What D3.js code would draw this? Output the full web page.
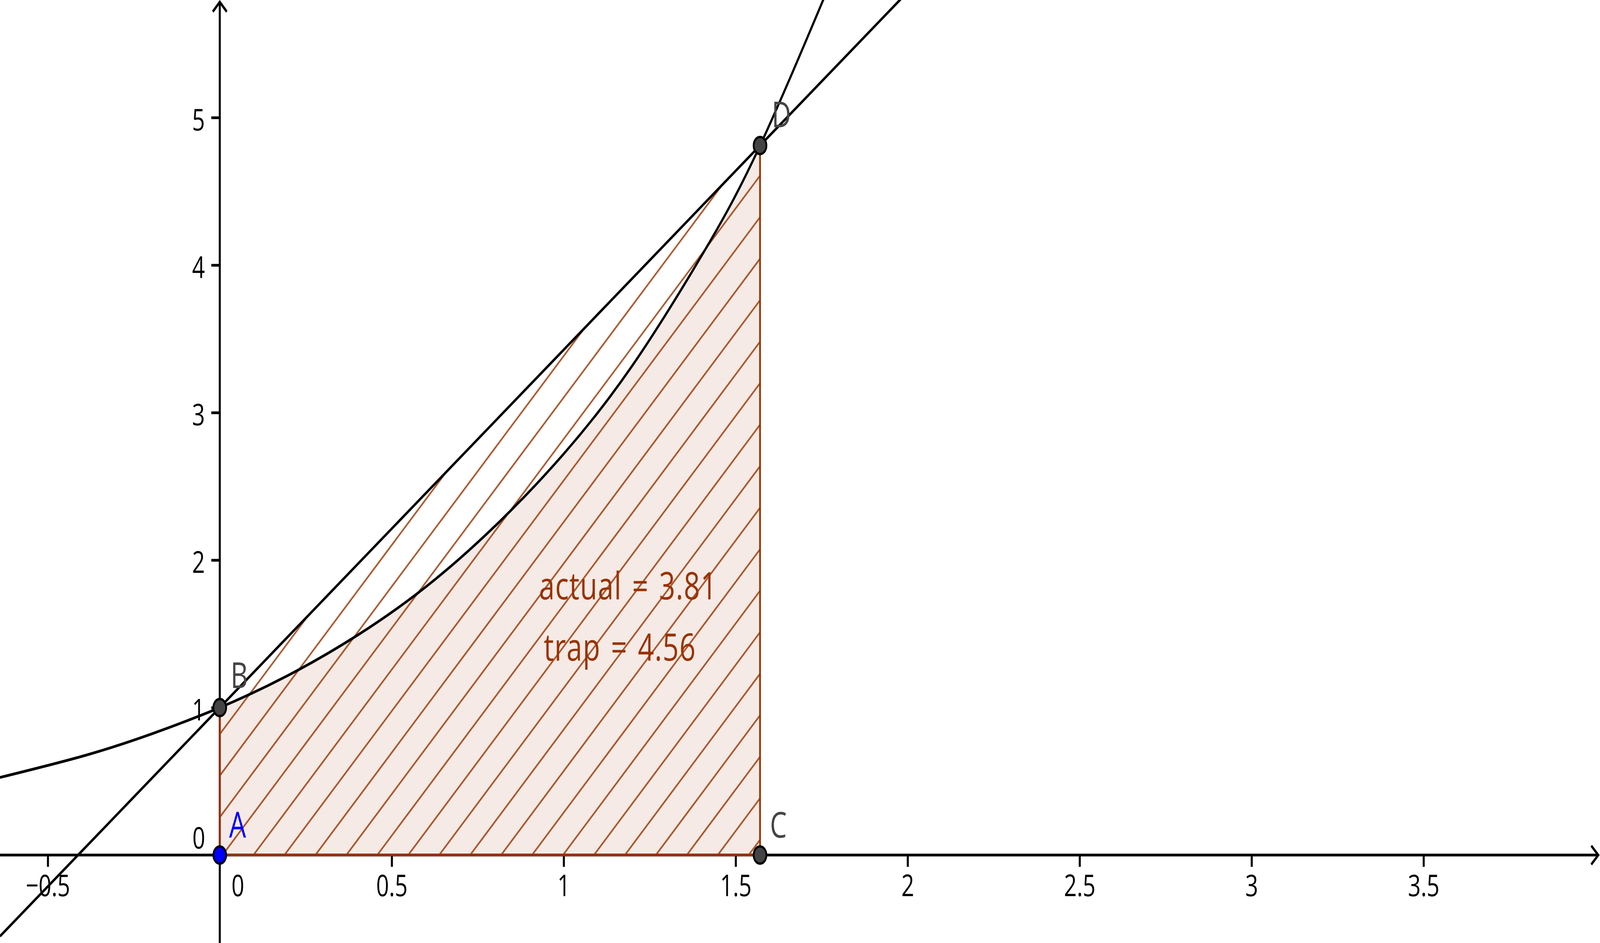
<!DOCTYPE html>
<html>
<head>
<meta charset="utf-8">
<script src="https://cdn.jsdelivr.net/npm/d3@7"></script>
<style>
  html, body { margin: 0; padding: 0; background: #fff; overflow: hidden; width: 100%; height: 100%; }
  #chart { width: 100vw; height: 100vh; }
  svg { display: block; width: 100%; height: 100%; font-family: "Open Sans", sans-serif; }
</style>
</head>
<body>
<div id="chart"></div>
<script>
// graph of the curve
const curveX = [-0.65, -0.4, -0.2, 0, 0.2, 0.4, 0.6, 0.8, 1.0, 1.2, 1.4, 1.5708, 1.8];
const curveY = [0.52, 0.67, 0.82, 1, 1.22, 1.49, 1.82, 2.23, 2.72, 3.32, 4.06, 4.81, 6.05];

// named points
const pointNames = ['A', 'B', 'C', 'D'];
const pointX = [0, 0, 1.5708, 1.5708];
const pointY = [0, 1, 0, 4.8105];
const pointFill = ['#0000ff', '#444444', '#444444', '#444444'];

// axes
const xTicks = [-0.5, 0.5, 1, 1.5, 2, 2.5, 3, 3.5];
const xTickLabels = ['\u22120.5', '0.5', '1', '1.5', '2', '2.5', '3', '3.5'];
const yTicks = [1, 2, 3, 4, 5];
const yTickLabels = ['1', '2', '3', '4', '5'];

// text boxes
const notes = ['actual = 3.81', 'trap = 4.56'];
const noteX = [0.928, 0.942];
const noteY = [1.734, 1.318];

const width = 5495;
const height = 2415;
const brown = '#993300';

const x = d3.scaleLinear().domain([-0.639, 4.013]).range([0, width]);
const y = d3.scaleLinear().domain([-0.596, 5.797]).range([height, 0]);

// drawing is done in 5495x2415 units and stretched onto the window
const svg = d3.select('#chart').append('svg')
  .attr('viewBox', '0 0 ' + width + ' ' + height)
  .attr('preserveAspectRatio', 'none');

const X0 = x(0), Y0 = y(0);

// ---- axes ----
const gx = svg.append('g')
  .attr('transform', 'translate(0,' + Y0 + ')')
  .call(d3.axisBottom(x).tickValues(xTicks)
    .tickFormat(d => xTickLabels[xTicks.indexOf(d)])
    .tickSize(30).tickPadding(20));
gx.select('.domain').remove();
gx.attr('font-size', 77).attr('font-family', '"Open Sans", sans-serif');
gx.selectAll('.tick line').attr('stroke', '#000').attr('stroke-width', 7);
gx.selectAll('.tick text').attr('fill', '#000');

const gy = svg.append('g')
  .attr('transform', 'translate(' + X0 + ',0)')
  .call(d3.axisLeft(y).tickValues(yTicks)
    .tickFormat(d => yTickLabels[yTicks.indexOf(d)])
    .tickSize(29).tickPadding(22));
gy.select('.domain').remove();
gy.attr('font-size', 77).attr('font-family', '"Open Sans", sans-serif');
gy.selectAll('.tick line').attr('stroke', '#000').attr('stroke-width', 7);
gy.selectAll('.tick text').attr('fill', '#000').attr('dy', '0.42em');

// origin labels
svg.append('text').attr('x', X0 + 62).attr('y', Y0 + 105)
  .attr('text-anchor', 'middle').attr('font-size', 77).text('0');
svg.append('text').attr('x', X0 - 50).attr('y', Y0 - 17)
  .attr('text-anchor', 'end').attr('font-size', 77).text('0');

// axis lines with open arrow heads
svg.append('line').attr('x1', 0).attr('x2', width - 6)
  .attr('y1', Y0).attr('y2', Y0)
  .attr('stroke', '#000').attr('stroke-width', 7);
svg.append('polyline')
  .attr('points', [[width - 30, Y0 - 24], [width - 6, Y0], [width - 30, Y0 + 24]].join(' '))
  .attr('fill', 'none').attr('stroke', '#000').attr('stroke-width', 7);
svg.append('line').attr('x1', X0).attr('x2', X0)
  .attr('y1', height).attr('y2', 5)
  .attr('stroke', '#000').attr('stroke-width', 7);
svg.append('polyline')
  .attr('points', [[X0 - 24, 30], [X0, 5], [X0 + 24, 30]].join(' '))
  .attr('fill', 'none').attr('stroke', '#000').attr('stroke-width', 7);

// ---- region under the curve ----
const curvePts = curveX.map((v, i) => [v, curveY[i]]);
const a = pointX[0], b = pointX[2];
const underPts = curvePts.filter(p => p[0] >= a && p[0] <= b);

svg.append('path')
  .datum(underPts)
  .attr('d', d3.area().x(d => x(d[0])).y0(Y0).y1(d => y(d[1])).curve(d3.curveNatural))
  .attr('fill', brown).attr('fill-opacity', 0.1);

// ---- trapezoid hatching ----
const trap = [0, 1, 3, 2].map(i => [x(pointX[i]), y(pointY[i])]);
svg.append('clipPath').attr('id', 'trapClip')
  .append('polygon').attr('points', trap.join(' '));

const step = 106.3;
const sums = trap.map(p => p[0] + p[1]);
const cStart = 2635 - Math.ceil((2635 - d3.min(sums)) / step) * step;
const hatch = svg.append('g').attr('clip-path', 'url(#trapClip)');
hatch.selectAll('line')
  .data(d3.range(cStart, d3.max(sums) + step, step))
  .join('line')
  .attr('x1', c => c - 200).attr('y1', 200)
  .attr('x2', c => c - 2300).attr('y2', 2300)
  .attr('stroke', brown).attr('stroke-width', 5).attr('stroke-opacity', 0.8);

// trapezoid border (sides on the axes and the right edge)
svg.append('polyline')
  .attr('points', [trap[1], trap[0], trap[3], trap[2]].join(' '))
  .attr('fill', 'none').attr('stroke', brown).attr('stroke-width', 6);

// ---- the curve ----
svg.append('path')
  .datum(curvePts)
  .attr('d', d3.line().x(d => x(d[0])).y(d => y(d[1])).curve(d3.curveNatural))
  .attr('fill', 'none').attr('stroke', '#000').attr('stroke-width', 7);

// ---- line through B and D ----
const m = (pointY[3] - pointY[1]) / (pointX[3] - pointX[1]);
const xd = x.domain();
svg.append('line')
  .attr('x1', x(xd[0])).attr('y1', y(pointY[1] + m * (xd[0] - pointX[1])))
  .attr('x2', x(xd[1])).attr('y2', y(pointY[1] + m * (xd[1] - pointX[1])))
  .attr('stroke', '#000').attr('stroke-width', 7);

// ---- text boxes ----
svg.selectAll('text.note')
  .data(notes)
  .join('text')
  .attr('class', 'note')
  .attr('x', (d, i) => x(noteX[i]))
  .attr('y', (d, i) => y(noteY[i]))
  .attr('font-size', 97)
  .attr('letter-spacing', 2)
  .attr('word-spacing', 8)
  .attr('fill', brown)
  .text(d => d);

// ---- points ----
const labelDx = [32, 37, 34, 40];
const labelDy = [-45, -50, -45, -47];
svg.selectAll('circle.pt')
  .data(pointNames)
  .join('circle')
  .attr('class', 'pt')
  .attr('cx', (d, i) => x(pointX[i]))
  .attr('cy', (d, i) => y(pointY[i]))
  .attr('r', 22)
  .attr('fill', (d, i) => pointFill[i])
  .attr('stroke', '#000').attr('stroke-width', 6);

svg.selectAll('text.ptlabel')
  .data(pointNames)
  .join('text')
  .attr('class', 'ptlabel')
  .attr('x', (d, i) => x(pointX[i]) + labelDx[i])
  .attr('y', (d, i) => y(pointY[i]) + labelDy[i])
  .attr('font-size', 92)
  .attr('fill', (d, i) => i === 0 ? '#0000ff' : '#444444')
  .text(d => d);
</script>
</body>
</html>
